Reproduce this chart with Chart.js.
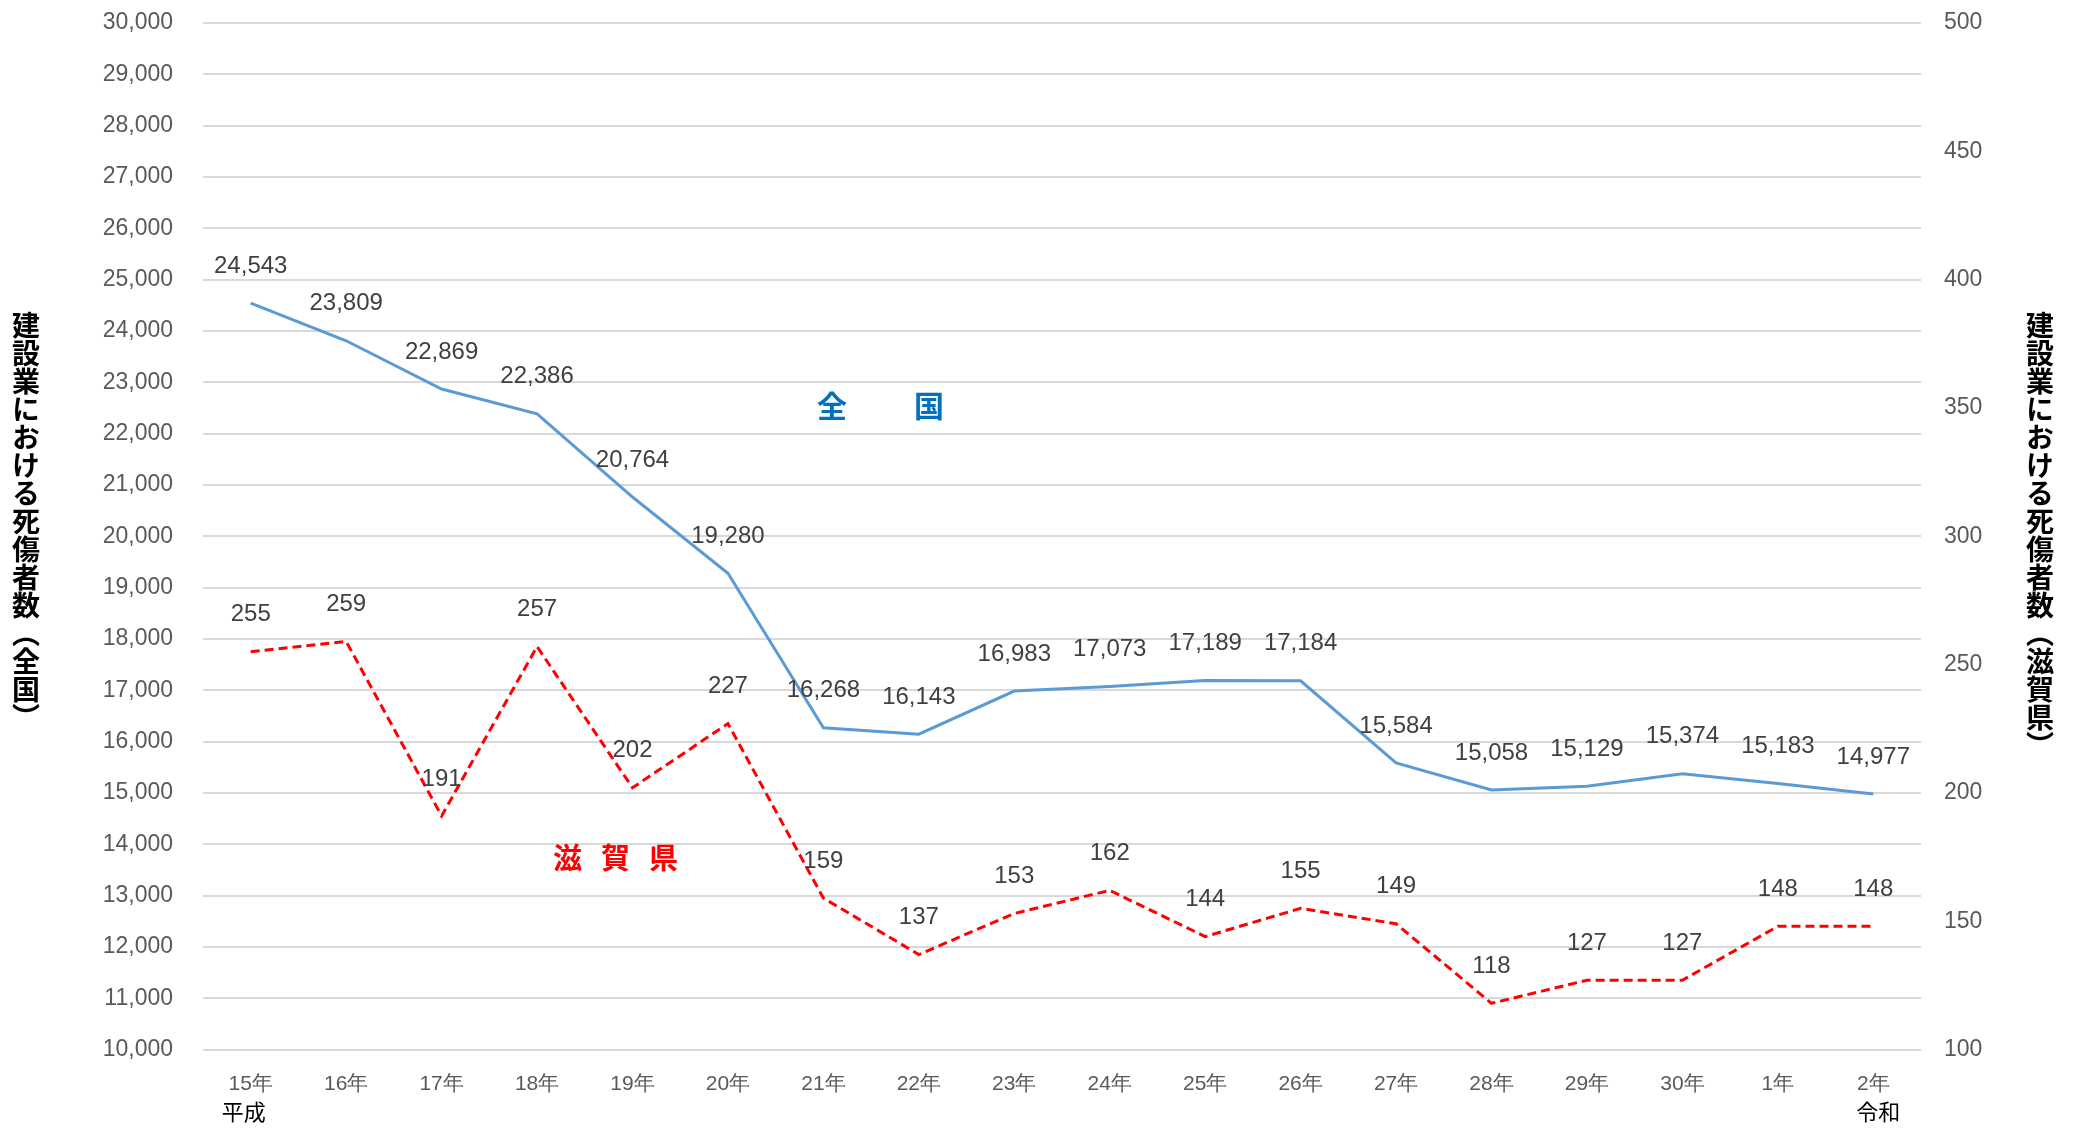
<!DOCTYPE html>
<html>
<head>
<meta charset="utf-8">
<script src="https://cdn.jsdelivr.net/npm/chart.js@4.4.1/dist/chart.umd.min.js"></script>
<style>
  body { margin: 0; background: #fff; }
  #wrap { position: relative; width: 2075px; height: 1132px; }
  .vtitle { position: absolute; top: 311px; writing-mode: vertical-rl; font-family: "Noto Sans CJK JP", sans-serif; font-weight: bold; font-size: 28px; line-height: 1; color: #000; }
  .note { position: absolute; font-family: "Noto Sans CJK JP", sans-serif; font-weight: bold; line-height: 1; white-space: nowrap; }
</style>
</head>
<body>
<div id="wrap">
  <canvas id="chart" width="2075" height="1132"></canvas>
  <div class="vtitle" style="left:12px;">建設業における死傷者数（全国）</div>
  <div class="vtitle" style="left:2026px;">建設業における死傷者数（滋賀県）</div>
  <div class="note" style="left:817px; top:389px; font-size:30px; letter-spacing:67px; color:#0070C0;">全国</div>
  <div class="note" style="left:553px; top:842px; font-size:29px; letter-spacing:19px; color:#FF0000;">滋賀県</div>
</div>
<script>
// 年度ラベル
const years = ['15年','16年','17年','18年','19年','20年','21年','22年','23年','24年','25年','26年','27年','28年','29年','30年','1年','2年'];
// 全国の死傷者数
const national = [24543, 23809, 22869, 22386, 20764, 19280, 16268, 16143, 16983, 17073, 17189, 17184, 15584, 15058, 15129, 15374, 15183, 14977];
// 滋賀県の死傷者数
const shiga = [255, 259, 191, 257, 202, 227, 159, 137, 153, 162, 144, 155, 149, 118, 127, 127, 148, 148];
// 元号
const eraFirst = '平成';
const eraLast = '令和';

const tickColor = '#595959';
const numFont = '"Liberation Sans", Arial, sans-serif';

// 値ラベルと元号を描く
const labelPlugin = {
  id: 'valueLabels',
  afterDatasetsDraw(chart) {
    const ctx = chart.ctx;
    ctx.save();
    ctx.font = '24px ' + numFont;
    ctx.fillStyle = '#404040';
    ctx.textAlign = 'center';
    ctx.textBaseline = 'middle';
    chart.data.datasets.forEach((ds, i) => {
      chart.getDatasetMeta(i).data.forEach((pt, j) => {
        ctx.fillText(ds.data[j].toLocaleString('en-US'), pt.x, pt.y - 37);
      });
    });
    const xs = chart.scales.x;
    ctx.font = '22px "Noto Sans CJK JP", sans-serif';
    ctx.fillStyle = '#000';
    ctx.fillText(eraFirst, xs.getPixelForValue(0) - 7, 1112);
    ctx.fillText(eraLast, xs.getPixelForValue(years.length - 1) + 5, 1112);
    ctx.restore();
  }
};

// 縦軸の幅を固定し、余白を詰める
const fitY = (w) => (s) => {
  s.width = w;
  s.paddingTop = 0;
  s.paddingBottom = 0;
};

new Chart(document.getElementById('chart'), {
  type: 'line',
  data: {
    labels: years,
    datasets: [{
      label: '全国',
      data: national,
      yAxisID: 'y',
      borderColor: '#5B9BD5',
      borderWidth: 3,
      pointRadius: 0,
      tension: 0
    }, {
      label: '滋賀県',
      data: shiga,
      yAxisID: 'y1',
      borderColor: '#FF0000',
      borderWidth: 3,
      borderDash: [9, 5],
      pointRadius: 0,
      tension: 0
    }]
  },
  options: {
    responsive: false,
    devicePixelRatio: 1,
    animation: false,
    locale: 'en-US',
    layout: { padding: { top: 23, left: 0, right: 0, bottom: 0 } },
    plugins: { legend: { display: false }, tooltip: { enabled: false } },
    scales: {
      x: {
        offset: true,
        grid: { display: false, drawTicks: false },
        border: { display: false },
        ticks: { color: tickColor, font: { size: 21, family: numFont }, padding: 22, maxRotation: 0 },
        afterFit: (s) => { s.height = 82.5; }
      },
      y: {
        position: 'left',
        min: 10000,
        max: 30000,
        grid: { color: '#D9D9D9', lineWidth: 2, drawTicks: false },
        border: { display: false },
        ticks: { stepSize: 1000, color: tickColor, font: { size: 23, family: numFont }, padding: 30 },
        afterFit: fitY(203)
      },
      y1: {
        position: 'right',
        min: 100,
        max: 500,
        grid: { display: false, drawTicks: false },
        border: { display: false },
        ticks: { stepSize: 50, color: tickColor, font: { size: 23, family: numFont }, padding: 23 },
        afterFit: fitY(154)
      }
    }
  },
  plugins: [labelPlugin]
});
</script>
</body>
</html>
